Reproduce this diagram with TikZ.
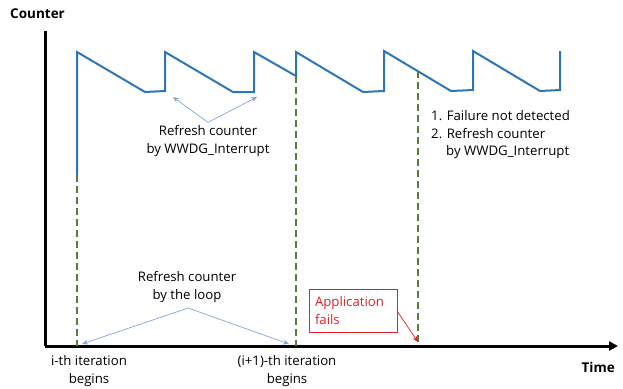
\documentclass[tikz,border=0pt]{standalone}
\usepackage{fontspec}
\setmainfont{Open Sans}
\usetikzlibrary{arrows.meta}
\definecolor{wave}{HTML}{2E75B6}
\definecolor{olivedash}{HTML}{548235}
\definecolor{note}{HTML}{7FA7D6}
\definecolor{alarm}{HTML}{E0202A}
\begin{document}
\begin{tikzpicture}[x=1pt,y=-1pt,
  axis/.style={line width=3pt,black},
  saw/.style={line width=2pt,wave,line join=miter},
  iter/.style={line width=2pt,olivedash,dash pattern=on 7pt off 4pt},
  lbl/.style={inner sep=0pt,font=\fontsize{13.2}{17.5}\selectfont},
  title/.style={inner sep=0pt,font=\fontsize{13.5}{16}\selectfont\bfseries},
  hint/.style={line width=0.7pt,note,-{Stealth[length=6pt,width=5pt]}},
  failarrow/.style={line width=0.7pt,alarm,-{Stealth[length=6pt,width=5pt]}}]
\useasboundingbox (0,0) rectangle (623,388);

% axes
\coordinate (origin) at (45,346);
\coordinate (ytop) at (45,31);
\coordinate (xend) at (618,346);
\draw[axis] (ytop) -- (origin);
\draw[axis,-{Triangle[length=9pt,width=9pt]}] (origin) -- (xend);
\node[title,anchor=west] (counter) at (10,14) {Counter};
\node[title,anchor=east] (time) at (615,367) {Time};

% watchdog counter
\coordinate (s0) at (77,175);
\coordinate (s1) at (77,52);   \coordinate (s2) at (145,92);
\coordinate (s3) at (165,91);  \coordinate (s4) at (165,52);
\coordinate (s5) at (233,92);  \coordinate (s6) at (254,92);
\coordinate (s7) at (254,52);  \coordinate (s8) at (296,76);
\coordinate (s9) at (296,52);  \coordinate (s10) at (363,92);
\coordinate (s11) at (384,91); \coordinate (s12) at (384,51);
\coordinate (s13) at (451,91); \coordinate (s14) at (473,90);
\coordinate (s15) at (473,51); \coordinate (s16) at (540,91);
\coordinate (s17) at (560,90); \coordinate (s18) at (560,51);
\draw[saw] (s0) -- (s1) -- (s2) -- (s3) -- (s4) -- (s5) -- (s6) -- (s7)
  -- (s8) -- (s9) -- (s10) -- (s11) -- (s12) -- (s13) -- (s14) -- (s15)
  -- (s16) -- (s17) -- (s18);

% iteration markers
\coordinate (f0) at (418,71);
\coordinate (b0) at (77,346);
\coordinate (b1) at (296,346);
\coordinate (b2) at (418,346);
\draw[iter] (s0) -- (b0);
\draw[iter] (s8) -- (b1);
\draw[iter] (f0) -- (b2);

% interrupt refresh
\node[lbl,align=center] (wwdg) at (208,141) {Refresh counter\\by WWDG\_Interrupt};
\coordinate (w1) at (173,97);
\coordinate (w2) at (257,97);
\draw[hint] (wwdg.north) ++(0,-3) coordinate (wtip) -- (w1);
\draw[hint] (wtip) -- (w2);

\node[lbl,align=left,anchor=west] (missed) at (431,135)
  {1. Failure not detected\\2. Refresh counter\\\hspace*{15pt}by WWDG\_Interrupt};

% loop refresh
\node[lbl,align=center] (loop) at (187,287) {Refresh counter\\by the loop};
\coordinate (l1) at (82,344);
\coordinate (l2) at (289,344);
\draw[hint] (188,308) coordinate (ltip) -- (l1);
\draw[hint] (ltip) -- (l2);

\node[lbl,align=center] (it0) at (89,371) {i-th iteration\\begins};
\node[lbl,align=center] (it1) at (287,371) {(i+1)-th iteration\\begins};

% failure
\node[lbl,draw=alarm,line width=0.8pt,text=alarm,align=left,
  minimum width=88pt,minimum height=43pt,inner xsep=6pt,text width=76pt] (fail) at (353,310.5)
  {Application\\fails};
\coordinate (fhit) at (418,342);
\draw[failarrow] (fail.east) ++(0,1) -- (fhit);
\end{tikzpicture}
\end{document}
